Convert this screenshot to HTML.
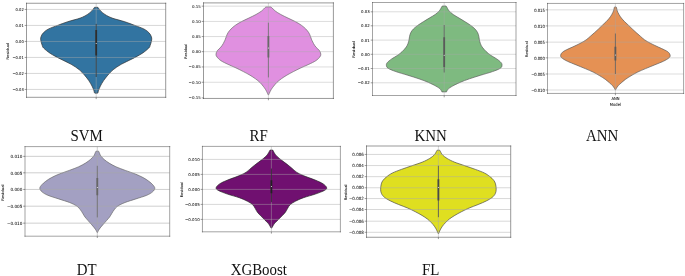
<!DOCTYPE html>
<html><head><meta charset="utf-8"><title>Violin plots</title>
<style>
html,body{margin:0;padding:0;background:#fff;}
body{width:685px;height:276px;overflow:hidden;}
svg{display:block;}
.t{font-family:"DejaVu Sans","Liberation Sans",sans-serif;fill:#000;stroke:#000;stroke-width:0.035px;text-rendering:geometricPrecision;}
.l{font-family:"Liberation Serif","Times New Roman",serif;font-size:14.9px;fill:#111;}
</style></head><body>
<svg width="685" height="276" viewBox="0 0 685 276">
<rect width="685" height="276" fill="#fff"/>
<clipPath id="c0"><rect x="26.50" y="3.25" width="139.20" height="94.05"/></clipPath>
<g clip-path="url(#c0)">
<path d="M97.80 7.30C97.88 7.40 97.83 7.30 98.30 7.90C98.77 8.50 99.48 9.80 100.60 10.90C101.72 12.00 103.07 13.30 105.00 14.50C106.93 15.70 108.90 16.89 112.20 18.10C115.50 19.31 121.03 20.53 124.80 21.75C128.57 22.97 131.62 24.19 134.80 25.40C137.98 26.61 141.57 27.80 143.90 29.00C146.23 30.20 147.58 31.39 148.80 32.60C150.02 33.81 150.72 35.03 151.20 36.25C151.68 37.47 151.87 38.39 151.70 39.90C151.53 41.41 150.68 43.95 150.20 45.30C149.72 46.65 150.15 46.65 148.80 48.00C147.45 49.35 144.88 51.58 142.10 53.40C139.32 55.22 135.58 57.08 132.10 58.90C128.62 60.72 124.37 62.49 121.20 64.30C118.03 66.11 115.33 67.93 113.10 69.75C110.87 71.57 109.38 73.39 107.80 75.20C106.22 77.01 104.83 78.80 103.60 80.60C102.37 82.40 101.25 84.33 100.40 86.00C99.55 87.67 98.90 89.50 98.50 90.60C98.10 91.70 98.17 92.17 98.00 92.60C97.83 93.03 97.58 93.10 97.50 93.20L94.90 93.20C94.82 93.10 94.57 93.03 94.40 92.60C94.23 92.17 94.30 91.70 93.90 90.60C93.50 89.50 92.85 87.67 92.00 86.00C91.15 84.33 90.03 82.40 88.80 80.60C87.57 78.80 86.18 77.01 84.60 75.20C83.02 73.39 81.53 71.57 79.30 69.75C77.07 67.93 74.37 66.11 71.20 64.30C68.03 62.49 63.78 60.72 60.30 58.90C56.82 57.08 53.08 55.22 50.30 53.40C47.52 51.58 44.95 49.35 43.60 48.00C42.25 46.65 42.68 46.65 42.20 45.30C41.72 43.95 40.87 41.41 40.70 39.90C40.53 38.39 40.72 37.47 41.20 36.25C41.68 35.03 42.38 33.81 43.60 32.60C44.82 31.39 46.17 30.20 48.50 29.00C50.83 27.80 54.42 26.61 57.60 25.40C60.78 24.19 63.83 22.97 67.60 21.75C71.37 20.53 76.90 19.31 80.20 18.10C83.50 16.89 85.47 15.70 87.40 14.50C89.33 13.30 90.68 12.00 91.80 10.90C92.92 9.80 93.63 8.50 94.10 7.90C94.57 7.30 94.52 7.40 94.60 7.30Z" fill="#3274a1" stroke="#2e2e2e" stroke-width="0.68" stroke-linejoin="round"/>
<line x1="26.50" y1="9.45" x2="165.70" y2="9.45" stroke="#a8a8a8" stroke-opacity="0.9" stroke-width="0.50"/>
<line x1="26.50" y1="25.45" x2="165.70" y2="25.45" stroke="#a8a8a8" stroke-opacity="0.9" stroke-width="0.50"/>
<line x1="26.50" y1="41.45" x2="165.70" y2="41.45" stroke="#a8a8a8" stroke-opacity="0.9" stroke-width="0.50"/>
<line x1="26.50" y1="57.45" x2="165.70" y2="57.45" stroke="#a8a8a8" stroke-opacity="0.9" stroke-width="0.50"/>
<line x1="26.50" y1="73.45" x2="165.70" y2="73.45" stroke="#a8a8a8" stroke-opacity="0.9" stroke-width="0.50"/>
<line x1="26.50" y1="89.45" x2="165.70" y2="89.45" stroke="#a8a8a8" stroke-opacity="0.9" stroke-width="0.50"/>
<line x1="96.20" y1="3.25" x2="96.20" y2="97.30" stroke="#a8a8a8" stroke-opacity="0.9" stroke-width="0.50"/>
<line x1="96.20" y1="23.90" x2="96.20" y2="77.00" stroke="#2e2e2e" stroke-width="0.75"/>
<line x1="96.20" y1="29.90" x2="96.20" y2="55.60" stroke="#2e2e2e" stroke-width="1.8"/>
<circle cx="96.20" cy="43.50" r="0.5" fill="#fff"/>
</g>
<line x1="26.50" y1="3.25" x2="26.50" y2="97.30" stroke="#333" stroke-width="0.50" stroke-linecap="square"/>
<line x1="26.50" y1="97.30" x2="165.70" y2="97.30" stroke="#333" stroke-width="0.50" stroke-linecap="square"/>
<line x1="165.70" y1="3.25" x2="165.70" y2="97.30" stroke="#333" stroke-width="0.50" stroke-linecap="square"/>
<line x1="26.50" y1="3.25" x2="165.70" y2="3.25" stroke="#333" stroke-width="0.50" stroke-linecap="square"/>
<line x1="24.70" y1="9.45" x2="26.50" y2="9.45" stroke="#222" stroke-width="0.45"/>
<text transform="translate(23.80 10.98) scale(1 1.06)" text-anchor="end" class="t" font-size="3.70">0.02</text>
<line x1="24.70" y1="25.45" x2="26.50" y2="25.45" stroke="#222" stroke-width="0.45"/>
<text transform="translate(23.80 26.98) scale(1 1.06)" text-anchor="end" class="t" font-size="3.70">0.01</text>
<line x1="24.70" y1="41.45" x2="26.50" y2="41.45" stroke="#222" stroke-width="0.45"/>
<text transform="translate(23.80 42.98) scale(1 1.06)" text-anchor="end" class="t" font-size="3.70">0.00</text>
<line x1="24.70" y1="57.45" x2="26.50" y2="57.45" stroke="#222" stroke-width="0.45"/>
<text transform="translate(23.80 58.98) scale(1 1.06)" text-anchor="end" class="t" font-size="3.70">−0.01</text>
<line x1="24.70" y1="73.45" x2="26.50" y2="73.45" stroke="#222" stroke-width="0.45"/>
<text transform="translate(23.80 74.98) scale(1 1.06)" text-anchor="end" class="t" font-size="3.70">−0.02</text>
<line x1="24.70" y1="89.45" x2="26.50" y2="89.45" stroke="#222" stroke-width="0.45"/>
<text transform="translate(23.80 90.98) scale(1 1.06)" text-anchor="end" class="t" font-size="3.70">−0.03</text>
<line x1="96.20" y1="97.30" x2="96.20" y2="99.10" stroke="#222" stroke-width="0.45"/>
<text transform="translate(9.40 51.20) scale(1 1.11) rotate(-90)" text-anchor="middle" class="t" font-size="3.6">Residual</text>
<text transform="translate(86.60 140.70) scale(1 1.05)" text-anchor="middle" class="l">SVM</text>
<clipPath id="c1"><rect x="203.50" y="2.90" width="129.90" height="95.55"/></clipPath>
<g clip-path="url(#c1)">
<path d="M270.90 6.90C271.02 7.00 270.90 6.83 271.60 7.50C272.30 8.17 273.57 9.73 275.10 10.90C276.63 12.07 278.65 13.30 280.80 14.50C282.95 15.70 285.53 16.89 288.00 18.10C290.47 19.31 293.33 20.53 295.60 21.75C297.87 22.97 299.90 24.19 301.60 25.40C303.30 26.61 304.62 27.80 305.80 29.00C306.98 30.20 307.93 31.39 308.70 32.60C309.47 33.81 309.90 35.03 310.40 36.25C310.90 37.47 311.18 38.69 311.70 39.90C312.22 41.11 312.80 42.30 313.50 43.50C314.20 44.70 314.90 45.90 315.90 47.10C316.90 48.30 318.68 49.50 319.50 50.70C320.32 51.90 320.77 53.23 320.80 54.30C320.83 55.37 320.53 56.03 319.70 57.10C318.87 58.17 317.60 59.50 315.80 60.70C314.00 61.90 311.40 63.10 308.90 64.30C306.40 65.50 303.38 66.68 300.80 67.90C298.22 69.12 295.73 70.38 293.40 71.60C291.07 72.82 288.82 74.00 286.80 75.20C284.78 76.40 282.95 77.60 281.30 78.80C279.65 80.00 278.17 81.18 276.90 82.40C275.63 83.62 274.67 84.88 273.70 86.10C272.73 87.32 271.83 88.50 271.10 89.70C270.37 90.90 269.70 92.45 269.30 93.30C268.90 94.15 268.80 94.55 268.70 94.80L268.10 94.80C268.00 94.55 267.90 94.15 267.50 93.30C267.10 92.45 266.43 90.90 265.70 89.70C264.97 88.50 264.07 87.32 263.10 86.10C262.13 84.88 261.17 83.62 259.90 82.40C258.63 81.18 257.15 80.00 255.50 78.80C253.85 77.60 252.02 76.40 250.00 75.20C247.98 74.00 245.73 72.82 243.40 71.60C241.07 70.38 238.58 69.12 236.00 67.90C233.42 66.68 230.40 65.50 227.90 64.30C225.40 63.10 222.80 61.90 221.00 60.70C219.20 59.50 217.93 58.17 217.10 57.10C216.27 56.03 215.97 55.37 216.00 54.30C216.03 53.23 216.48 51.90 217.30 50.70C218.12 49.50 219.90 48.30 220.90 47.10C221.90 45.90 222.60 44.70 223.30 43.50C224.00 42.30 224.58 41.11 225.10 39.90C225.62 38.69 225.90 37.47 226.40 36.25C226.90 35.03 227.33 33.81 228.10 32.60C228.87 31.39 229.82 30.20 231.00 29.00C232.18 27.80 233.50 26.61 235.20 25.40C236.90 24.19 238.93 22.97 241.20 21.75C243.47 20.53 246.33 19.31 248.80 18.10C251.27 16.89 253.85 15.70 256.00 14.50C258.15 13.30 260.17 12.07 261.70 10.90C263.23 9.73 264.50 8.17 265.20 7.50C265.90 6.83 265.78 7.00 265.90 6.90Z" fill="#e090e0" stroke="#686868" stroke-width="0.68" stroke-linejoin="round"/>
<line x1="203.50" y1="6.15" x2="333.40" y2="6.15" stroke="#a8a8a8" stroke-opacity="0.9" stroke-width="0.45"/>
<line x1="203.50" y1="21.45" x2="333.40" y2="21.45" stroke="#a8a8a8" stroke-opacity="0.9" stroke-width="0.45"/>
<line x1="203.50" y1="36.55" x2="333.40" y2="36.55" stroke="#a8a8a8" stroke-opacity="0.9" stroke-width="0.45"/>
<line x1="203.50" y1="51.65" x2="333.40" y2="51.65" stroke="#a8a8a8" stroke-opacity="0.9" stroke-width="0.45"/>
<line x1="203.50" y1="66.95" x2="333.40" y2="66.95" stroke="#a8a8a8" stroke-opacity="0.9" stroke-width="0.45"/>
<line x1="203.50" y1="82.25" x2="333.40" y2="82.25" stroke="#a8a8a8" stroke-opacity="0.9" stroke-width="0.45"/>
<line x1="268.40" y1="2.90" x2="268.40" y2="98.45" stroke="#a8a8a8" stroke-opacity="0.9" stroke-width="0.45"/>
<line x1="268.40" y1="22.70" x2="268.40" y2="77.40" stroke="#686868" stroke-width="0.75"/>
<line x1="268.40" y1="35.90" x2="268.40" y2="57.40" stroke="#686868" stroke-width="1.8"/>
<circle cx="268.40" cy="48.00" r="0.5" fill="#fff"/>
</g>
<line x1="203.50" y1="2.90" x2="203.50" y2="98.45" stroke="#333" stroke-width="0.50" stroke-linecap="square"/>
<line x1="203.50" y1="98.45" x2="333.40" y2="98.45" stroke="#333" stroke-width="0.50" stroke-linecap="square"/>
<line x1="333.40" y1="2.90" x2="333.40" y2="98.45" stroke="#333" stroke-width="0.50" stroke-linecap="square"/>
<line x1="203.50" y1="2.90" x2="333.40" y2="2.90" stroke="#333" stroke-width="0.50" stroke-linecap="square"/>
<line x1="201.70" y1="6.15" x2="203.50" y2="6.15" stroke="#222" stroke-width="0.45"/>
<text transform="translate(200.80 7.65) scale(1 0.96)" text-anchor="end" class="t" font-size="4.00">0.15</text>
<line x1="201.70" y1="21.45" x2="203.50" y2="21.45" stroke="#222" stroke-width="0.45"/>
<text transform="translate(200.80 22.95) scale(1 0.96)" text-anchor="end" class="t" font-size="4.00">0.10</text>
<line x1="201.70" y1="36.55" x2="203.50" y2="36.55" stroke="#222" stroke-width="0.45"/>
<text transform="translate(200.80 38.05) scale(1 0.96)" text-anchor="end" class="t" font-size="4.00">0.05</text>
<line x1="201.70" y1="51.65" x2="203.50" y2="51.65" stroke="#222" stroke-width="0.45"/>
<text transform="translate(200.80 53.15) scale(1 0.96)" text-anchor="end" class="t" font-size="4.00">0.00</text>
<line x1="201.70" y1="66.95" x2="203.50" y2="66.95" stroke="#222" stroke-width="0.45"/>
<text transform="translate(200.80 68.45) scale(1 0.96)" text-anchor="end" class="t" font-size="4.00">−0.05</text>
<line x1="201.70" y1="82.25" x2="203.50" y2="82.25" stroke="#222" stroke-width="0.45"/>
<text transform="translate(200.80 83.75) scale(1 0.96)" text-anchor="end" class="t" font-size="4.00">−0.10</text>
<line x1="201.70" y1="97.90" x2="203.50" y2="97.90" stroke="#222" stroke-width="0.45"/>
<text transform="translate(200.80 99.40) scale(1 0.96)" text-anchor="end" class="t" font-size="4.00">−0.15</text>
<line x1="268.40" y1="98.45" x2="268.40" y2="100.25" stroke="#222" stroke-width="0.45"/>
<text transform="translate(186.60 51.20) scale(1 0.98) rotate(-90)" text-anchor="middle" class="t" font-size="3.6">Residual</text>
<text transform="translate(258.60 140.70) scale(1 1.05)" text-anchor="middle" class="l">RF</text>
<clipPath id="c2"><rect x="372.50" y="2.50" width="143.50" height="93.00"/></clipPath>
<g clip-path="url(#c2)">
<path d="M446.00 6.00C446.08 6.10 445.98 5.78 446.50 6.60C447.02 7.42 447.98 9.58 449.10 10.90C450.22 12.22 451.53 13.30 453.20 14.50C454.87 15.70 457.12 16.89 459.10 18.10C461.08 19.31 463.17 20.53 465.10 21.75C467.03 22.97 469.05 24.19 470.70 25.40C472.35 26.61 473.85 27.80 475.00 29.00C476.15 30.20 476.97 31.39 477.60 32.60C478.23 33.81 478.50 35.03 478.80 36.25C479.10 37.47 479.13 38.69 479.40 39.90C479.67 41.11 479.93 42.30 480.40 43.50C480.87 44.70 481.23 45.75 482.20 47.10C483.17 48.45 484.78 50.24 486.20 51.60C487.62 52.96 488.95 54.03 490.70 55.25C492.45 56.47 494.98 57.69 496.70 58.90C498.42 60.11 500.12 61.45 501.00 62.50C501.88 63.55 502.10 64.25 502.00 65.20C501.90 66.15 501.98 67.13 500.40 68.20C498.82 69.27 495.78 70.43 492.50 71.60C489.22 72.77 484.55 74.00 480.70 75.20C476.85 76.40 472.85 77.60 469.40 78.80C465.95 80.00 462.82 81.18 460.00 82.40C457.18 83.62 454.43 85.03 452.50 86.10C450.57 87.17 449.32 88.02 448.40 88.80C447.48 89.58 447.32 90.28 447.00 90.80C446.68 91.32 446.58 91.72 446.50 91.90L441.90 91.90C441.82 91.72 441.72 91.32 441.40 90.80C441.08 90.28 440.92 89.58 440.00 88.80C439.08 88.02 437.83 87.17 435.90 86.10C433.97 85.03 431.22 83.62 428.40 82.40C425.58 81.18 422.45 80.00 419.00 78.80C415.55 77.60 411.55 76.40 407.70 75.20C403.85 74.00 399.18 72.77 395.90 71.60C392.62 70.43 389.58 69.27 388.00 68.20C386.42 67.13 386.50 66.15 386.40 65.20C386.30 64.25 386.52 63.55 387.40 62.50C388.28 61.45 389.98 60.11 391.70 58.90C393.42 57.69 395.95 56.47 397.70 55.25C399.45 54.03 400.78 52.96 402.20 51.60C403.62 50.24 405.23 48.45 406.20 47.10C407.17 45.75 407.53 44.70 408.00 43.50C408.47 42.30 408.73 41.11 409.00 39.90C409.27 38.69 409.30 37.47 409.60 36.25C409.90 35.03 410.17 33.81 410.80 32.60C411.43 31.39 412.25 30.20 413.40 29.00C414.55 27.80 416.05 26.61 417.70 25.40C419.35 24.19 421.37 22.97 423.30 21.75C425.23 20.53 427.32 19.31 429.30 18.10C431.28 16.89 433.53 15.70 435.20 14.50C436.87 13.30 438.18 12.22 439.30 10.90C440.42 9.58 441.38 7.42 441.90 6.60C442.42 5.78 442.32 6.10 442.40 6.00Z" fill="#7eba80" stroke="#5a5a5a" stroke-width="0.68" stroke-linejoin="round"/>
<line x1="372.50" y1="11.80" x2="516.00" y2="11.80" stroke="#a8a8a8" stroke-opacity="0.9" stroke-width="0.45"/>
<line x1="372.50" y1="25.80" x2="516.00" y2="25.80" stroke="#a8a8a8" stroke-opacity="0.9" stroke-width="0.45"/>
<line x1="372.50" y1="40.10" x2="516.00" y2="40.10" stroke="#a8a8a8" stroke-opacity="0.9" stroke-width="0.45"/>
<line x1="372.50" y1="54.30" x2="516.00" y2="54.30" stroke="#a8a8a8" stroke-opacity="0.9" stroke-width="0.45"/>
<line x1="372.50" y1="68.50" x2="516.00" y2="68.50" stroke="#a8a8a8" stroke-opacity="0.9" stroke-width="0.45"/>
<line x1="372.50" y1="82.80" x2="516.00" y2="82.80" stroke="#a8a8a8" stroke-opacity="0.9" stroke-width="0.45"/>
<line x1="444.20" y1="2.50" x2="444.20" y2="95.50" stroke="#a8a8a8" stroke-opacity="0.9" stroke-width="0.45"/>
<line x1="444.20" y1="25.00" x2="444.20" y2="72.50" stroke="#5a5a5a" stroke-width="0.75"/>
<line x1="444.20" y1="37.20" x2="444.20" y2="67.00" stroke="#5a5a5a" stroke-width="1.8"/>
<circle cx="444.20" cy="55.25" r="0.5" fill="#fff"/>
</g>
<line x1="372.50" y1="2.50" x2="372.50" y2="95.50" stroke="#333" stroke-width="0.45" stroke-linecap="square"/>
<line x1="372.50" y1="95.50" x2="516.00" y2="95.50" stroke="#333" stroke-width="0.45" stroke-linecap="square"/>
<line x1="516.00" y1="2.50" x2="516.00" y2="95.50" stroke="#333" stroke-width="0.45" stroke-linecap="square"/>
<line x1="372.50" y1="2.50" x2="516.00" y2="2.50" stroke="#333" stroke-width="0.45" stroke-linecap="square"/>
<line x1="370.70" y1="11.80" x2="372.50" y2="11.80" stroke="#222" stroke-width="0.45"/>
<text transform="translate(369.80 13.33) scale(1 0.99)" text-anchor="end" class="t" font-size="3.95">0.03</text>
<line x1="370.70" y1="25.80" x2="372.50" y2="25.80" stroke="#222" stroke-width="0.45"/>
<text transform="translate(369.80 27.33) scale(1 0.99)" text-anchor="end" class="t" font-size="3.95">0.02</text>
<line x1="370.70" y1="40.10" x2="372.50" y2="40.10" stroke="#222" stroke-width="0.45"/>
<text transform="translate(369.80 41.63) scale(1 0.99)" text-anchor="end" class="t" font-size="3.95">0.01</text>
<line x1="370.70" y1="54.30" x2="372.50" y2="54.30" stroke="#222" stroke-width="0.45"/>
<text transform="translate(369.80 55.83) scale(1 0.99)" text-anchor="end" class="t" font-size="3.95">0.00</text>
<line x1="370.70" y1="68.50" x2="372.50" y2="68.50" stroke="#222" stroke-width="0.45"/>
<text transform="translate(369.80 70.03) scale(1 0.99)" text-anchor="end" class="t" font-size="3.95">−0.01</text>
<line x1="370.70" y1="82.80" x2="372.50" y2="82.80" stroke="#222" stroke-width="0.45"/>
<text transform="translate(369.80 84.33) scale(1 0.99)" text-anchor="end" class="t" font-size="3.95">−0.02</text>
<line x1="444.20" y1="95.50" x2="444.20" y2="97.30" stroke="#222" stroke-width="0.45"/>
<text transform="translate(354.60 49.40) scale(1 1.09) rotate(-90)" text-anchor="middle" class="t" font-size="3.6">Residual</text>
<text transform="translate(430.70 140.70) scale(1 1.05)" text-anchor="middle" class="l">KNN</text>
<clipPath id="c3"><rect x="547.50" y="3.45" width="136.10" height="90.00"/></clipPath>
<g clip-path="url(#c3)">
<path d="M616.10 6.90C616.17 7.02 616.30 6.93 616.50 7.60C616.70 8.27 616.88 9.75 617.30 10.90C617.72 12.05 618.32 13.30 619.00 14.50C619.68 15.70 620.45 16.89 621.40 18.10C622.35 19.31 623.50 20.53 624.70 21.75C625.90 22.97 627.33 24.19 628.60 25.40C629.87 26.61 631.03 27.80 632.30 29.00C633.57 30.20 634.85 31.39 636.20 32.60C637.55 33.81 638.98 35.03 640.40 36.25C641.82 37.47 642.95 38.69 644.70 39.90C646.45 41.11 648.62 42.30 650.90 43.50C653.18 44.70 656.10 46.02 658.40 47.10C660.70 48.18 663.03 49.14 664.70 50.00C666.37 50.86 667.50 51.42 668.40 52.25C669.30 53.08 669.97 54.09 670.10 55.00C670.23 55.91 670.33 56.65 669.20 57.70C668.07 58.75 665.73 60.10 663.30 61.30C660.87 62.50 657.55 63.68 654.60 64.90C651.65 66.12 648.47 67.38 645.60 68.60C642.73 69.82 639.83 71.00 637.40 72.20C634.97 73.40 633.00 74.60 631.00 75.80C629.00 77.00 627.07 78.18 625.40 79.40C623.73 80.62 622.22 82.03 621.00 83.10C619.78 84.17 618.88 84.90 618.10 85.80C617.32 86.70 616.70 87.83 616.30 88.50C615.90 89.17 615.80 89.58 615.70 89.80L615.10 89.80C615.00 89.58 614.90 89.17 614.50 88.50C614.10 87.83 613.48 86.70 612.70 85.80C611.92 84.90 611.02 84.17 609.80 83.10C608.58 82.03 607.07 80.62 605.40 79.40C603.73 78.18 601.80 77.00 599.80 75.80C597.80 74.60 595.83 73.40 593.40 72.20C590.97 71.00 588.07 69.82 585.20 68.60C582.33 67.38 579.15 66.12 576.20 64.90C573.25 63.68 569.93 62.50 567.50 61.30C565.07 60.10 562.73 58.75 561.60 57.70C560.47 56.65 560.57 55.91 560.70 55.00C560.83 54.09 561.50 53.08 562.40 52.25C563.30 51.42 564.43 50.86 566.10 50.00C567.77 49.14 570.10 48.18 572.40 47.10C574.70 46.02 577.62 44.70 579.90 43.50C582.18 42.30 584.35 41.11 586.10 39.90C587.85 38.69 588.98 37.47 590.40 36.25C591.82 35.03 593.25 33.81 594.60 32.60C595.95 31.39 597.23 30.20 598.50 29.00C599.77 27.80 600.93 26.61 602.20 25.40C603.47 24.19 604.90 22.97 606.10 21.75C607.30 20.53 608.45 19.31 609.40 18.10C610.35 16.89 611.12 15.70 611.80 14.50C612.48 13.30 613.08 12.05 613.50 10.90C613.92 9.75 614.10 8.27 614.30 7.60C614.50 6.93 614.63 7.02 614.70 6.90Z" fill="#e59154" stroke="#5a5a5a" stroke-width="0.68" stroke-linejoin="round"/>
<line x1="547.50" y1="9.85" x2="683.60" y2="9.85" stroke="#a8a8a8" stroke-opacity="0.9" stroke-width="0.45"/>
<line x1="547.50" y1="25.90" x2="683.60" y2="25.90" stroke="#a8a8a8" stroke-opacity="0.9" stroke-width="0.45"/>
<line x1="547.50" y1="42.15" x2="683.60" y2="42.15" stroke="#a8a8a8" stroke-opacity="0.9" stroke-width="0.45"/>
<line x1="547.50" y1="57.85" x2="683.60" y2="57.85" stroke="#a8a8a8" stroke-opacity="0.9" stroke-width="0.45"/>
<line x1="547.50" y1="74.00" x2="683.60" y2="74.00" stroke="#a8a8a8" stroke-opacity="0.9" stroke-width="0.45"/>
<line x1="547.50" y1="90.00" x2="683.60" y2="90.00" stroke="#a8a8a8" stroke-opacity="0.9" stroke-width="0.45"/>
<line x1="615.40" y1="3.45" x2="615.40" y2="93.45" stroke="#a8a8a8" stroke-opacity="0.9" stroke-width="0.45"/>
<line x1="615.40" y1="33.50" x2="615.40" y2="74.00" stroke="#5a5a5a" stroke-width="0.75"/>
<line x1="615.40" y1="46.80" x2="615.40" y2="60.40" stroke="#5a5a5a" stroke-width="1.8"/>
<circle cx="615.40" cy="55.00" r="0.5" fill="#fff"/>
</g>
<line x1="547.50" y1="3.45" x2="547.50" y2="93.45" stroke="#333" stroke-width="0.45" stroke-linecap="square"/>
<line x1="547.50" y1="93.45" x2="683.60" y2="93.45" stroke="#333" stroke-width="0.45" stroke-linecap="square"/>
<line x1="683.60" y1="3.45" x2="683.60" y2="93.45" stroke="#333" stroke-width="0.45" stroke-linecap="square"/>
<line x1="547.50" y1="3.45" x2="683.60" y2="3.45" stroke="#333" stroke-width="0.45" stroke-linecap="square"/>
<line x1="545.70" y1="9.85" x2="547.50" y2="9.85" stroke="#222" stroke-width="0.45"/>
<text transform="translate(544.80 11.58) scale(1 1.21)" text-anchor="end" class="t" font-size="3.70">0.015</text>
<line x1="545.70" y1="25.90" x2="547.50" y2="25.90" stroke="#222" stroke-width="0.45"/>
<text transform="translate(544.80 27.63) scale(1 1.21)" text-anchor="end" class="t" font-size="3.70">0.010</text>
<line x1="545.70" y1="42.15" x2="547.50" y2="42.15" stroke="#222" stroke-width="0.45"/>
<text transform="translate(544.80 43.88) scale(1 1.21)" text-anchor="end" class="t" font-size="3.70">0.005</text>
<line x1="545.70" y1="57.85" x2="547.50" y2="57.85" stroke="#222" stroke-width="0.45"/>
<text transform="translate(544.80 59.58) scale(1 1.21)" text-anchor="end" class="t" font-size="3.70">0.000</text>
<line x1="545.70" y1="74.00" x2="547.50" y2="74.00" stroke="#222" stroke-width="0.45"/>
<text transform="translate(544.80 75.73) scale(1 1.21)" text-anchor="end" class="t" font-size="3.70">−0.005</text>
<line x1="545.70" y1="90.00" x2="547.50" y2="90.00" stroke="#222" stroke-width="0.45"/>
<text transform="translate(544.80 91.73) scale(1 1.21)" text-anchor="end" class="t" font-size="3.70">−0.010</text>
<line x1="615.40" y1="93.45" x2="615.40" y2="95.25" stroke="#222" stroke-width="0.45"/>
<text transform="translate(527.90 49.20) scale(1 1.07) rotate(-90)" text-anchor="middle" class="t" font-size="3.6">Residual</text>
<text transform="translate(615.40 100.40) scale(1 1.14)" text-anchor="middle" class="t" font-size="3.70">ANN</text>
<text transform="translate(615.40 105.80) scale(1 1.14)" text-anchor="middle" class="t" font-size="3.70">Model</text>
<text transform="translate(602.10 140.70) scale(1 1.05)" text-anchor="middle" class="l">ANN</text>
<clipPath id="c4"><rect x="25.00" y="146.60" width="144.70" height="89.60"/></clipPath>
<g clip-path="url(#c4)">
<path d="M98.50 151.20C98.58 151.32 98.62 151.12 99.00 151.90C99.38 152.68 99.93 154.63 100.80 155.90C101.67 157.17 102.82 158.30 104.20 159.50C105.58 160.70 107.15 161.89 109.10 163.10C111.05 164.31 113.20 165.53 115.90 166.75C118.60 167.97 122.07 169.19 125.30 170.40C128.53 171.61 132.33 172.80 135.30 174.00C138.27 175.20 140.85 176.39 143.10 177.60C145.35 178.81 147.17 180.03 148.80 181.25C150.43 182.47 151.90 183.72 152.90 184.90C153.90 186.08 154.85 187.15 154.80 188.30C154.75 189.45 153.93 190.64 152.60 191.80C151.27 192.96 149.58 194.07 146.80 195.25C144.02 196.43 139.53 197.69 135.90 198.90C132.27 200.11 128.02 201.30 125.00 202.50C121.98 203.70 119.60 204.89 117.80 206.10C116.00 207.31 115.20 208.53 114.20 209.75C113.20 210.97 112.57 212.19 111.80 213.40C111.03 214.61 110.48 215.80 109.60 217.00C108.72 218.20 107.55 219.39 106.50 220.60C105.45 221.81 104.35 223.03 103.30 224.25C102.25 225.47 101.02 226.84 100.20 227.90C99.38 228.96 98.83 229.85 98.40 230.60C97.97 231.35 97.73 232.10 97.60 232.40L97.00 232.40C96.87 232.10 96.63 231.35 96.20 230.60C95.77 229.85 95.22 228.96 94.40 227.90C93.58 226.84 92.35 225.47 91.30 224.25C90.25 223.03 89.15 221.81 88.10 220.60C87.05 219.39 85.88 218.20 85.00 217.00C84.12 215.80 83.57 214.61 82.80 213.40C82.03 212.19 81.40 210.97 80.40 209.75C79.40 208.53 78.60 207.31 76.80 206.10C75.00 204.89 72.62 203.70 69.60 202.50C66.58 201.30 62.33 200.11 58.70 198.90C55.07 197.69 50.58 196.43 47.80 195.25C45.02 194.07 43.33 192.96 42.00 191.80C40.67 190.64 39.85 189.45 39.80 188.30C39.75 187.15 40.70 186.08 41.70 184.90C42.70 183.72 44.17 182.47 45.80 181.25C47.43 180.03 49.25 178.81 51.50 177.60C53.75 176.39 56.33 175.20 59.30 174.00C62.27 172.80 66.07 171.61 69.30 170.40C72.53 169.19 76.00 167.97 78.70 166.75C81.40 165.53 83.55 164.31 85.50 163.10C87.45 161.89 89.02 160.70 90.40 159.50C91.78 158.30 92.93 157.17 93.80 155.90C94.67 154.63 95.22 152.68 95.60 151.90C95.98 151.12 96.02 151.32 96.10 151.20Z" fill="#a3a0c2" stroke="#666666" stroke-width="0.68" stroke-linejoin="round"/>
<line x1="25.00" y1="156.35" x2="169.70" y2="156.35" stroke="#a8a8a8" stroke-opacity="0.9" stroke-width="0.62"/>
<line x1="25.00" y1="172.80" x2="169.70" y2="172.80" stroke="#a8a8a8" stroke-opacity="0.9" stroke-width="0.62"/>
<line x1="25.00" y1="189.45" x2="169.70" y2="189.45" stroke="#a8a8a8" stroke-opacity="0.9" stroke-width="0.62"/>
<line x1="25.00" y1="206.20" x2="169.70" y2="206.20" stroke="#a8a8a8" stroke-opacity="0.9" stroke-width="0.62"/>
<line x1="25.00" y1="223.15" x2="169.70" y2="223.15" stroke="#a8a8a8" stroke-opacity="0.9" stroke-width="0.62"/>
<line x1="97.30" y1="146.60" x2="97.30" y2="236.20" stroke="#a8a8a8" stroke-opacity="0.9" stroke-width="0.62"/>
<line x1="97.30" y1="165.80" x2="97.30" y2="217.40" stroke="#666666" stroke-width="0.75"/>
<line x1="97.30" y1="178.00" x2="97.30" y2="195.25" stroke="#666666" stroke-width="1.8"/>
<circle cx="97.30" cy="187.60" r="0.5" fill="#fff"/>
</g>
<line x1="25.00" y1="146.60" x2="25.00" y2="236.20" stroke="#333" stroke-width="0.45" stroke-linecap="square"/>
<line x1="25.00" y1="236.20" x2="169.70" y2="236.20" stroke="#333" stroke-width="0.45" stroke-linecap="square"/>
<line x1="169.70" y1="146.60" x2="169.70" y2="236.20" stroke="#333" stroke-width="0.45" stroke-linecap="square"/>
<line x1="25.00" y1="146.60" x2="169.70" y2="146.60" stroke="#333" stroke-width="0.45" stroke-linecap="square"/>
<line x1="23.20" y1="156.35" x2="25.00" y2="156.35" stroke="#222" stroke-width="0.45"/>
<text transform="translate(22.30 158.07) scale(1 1.07)" text-anchor="end" class="t" font-size="4.15">0.010</text>
<line x1="23.20" y1="172.80" x2="25.00" y2="172.80" stroke="#222" stroke-width="0.45"/>
<text transform="translate(22.30 174.52) scale(1 1.07)" text-anchor="end" class="t" font-size="4.15">0.005</text>
<line x1="23.20" y1="189.45" x2="25.00" y2="189.45" stroke="#222" stroke-width="0.45"/>
<text transform="translate(22.30 191.17) scale(1 1.07)" text-anchor="end" class="t" font-size="4.15">0.000</text>
<line x1="23.20" y1="206.20" x2="25.00" y2="206.20" stroke="#222" stroke-width="0.45"/>
<text transform="translate(22.30 207.92) scale(1 1.07)" text-anchor="end" class="t" font-size="4.15">−0.005</text>
<line x1="23.20" y1="223.15" x2="25.00" y2="223.15" stroke="#222" stroke-width="0.45"/>
<text transform="translate(22.30 224.87) scale(1 1.07)" text-anchor="end" class="t" font-size="4.15">−0.010</text>
<line x1="97.30" y1="236.20" x2="97.30" y2="238.00" stroke="#222" stroke-width="0.45"/>
<text transform="translate(4.30 192.60) scale(1 1.08) rotate(-90)" text-anchor="middle" class="t" font-size="3.6">Residual</text>
<text transform="translate(86.60 274.70) scale(1 1.05)" text-anchor="middle" class="l">DT</text>
<clipPath id="c5"><rect x="202.45" y="146.40" width="137.95" height="85.40"/></clipPath>
<g clip-path="url(#c5)">
<path d="M272.60 150.00C272.68 150.12 272.60 149.88 273.10 150.70C273.60 151.52 274.55 153.60 275.60 154.90C276.65 156.20 277.98 157.30 279.40 158.50C280.82 159.70 282.52 160.89 284.10 162.10C285.68 163.31 287.38 164.53 288.90 165.75C290.42 166.97 291.70 168.19 293.20 169.40C294.70 170.61 295.78 171.80 297.90 173.00C300.02 174.20 302.93 175.39 305.90 176.60C308.87 177.81 312.82 179.03 315.70 180.25C318.58 181.47 321.38 182.68 323.20 183.90C325.02 185.12 326.35 186.53 326.60 187.60C326.85 188.67 326.58 189.22 324.70 190.30C322.82 191.38 318.83 192.87 315.30 194.10C311.77 195.33 306.83 196.50 303.50 197.70C300.17 198.90 297.57 200.10 295.30 201.30C293.03 202.50 291.20 203.68 289.90 204.90C288.60 206.12 288.25 207.38 287.50 208.60C286.75 209.82 286.30 211.00 285.40 212.20C284.50 213.40 283.25 214.60 282.10 215.80C280.95 217.00 279.72 218.18 278.50 219.40C277.28 220.62 275.72 222.03 274.80 223.10C273.88 224.17 273.52 224.97 273.00 225.80C272.48 226.63 271.92 227.72 271.70 228.10L271.10 228.10C270.88 227.72 270.32 226.63 269.80 225.80C269.28 224.97 268.92 224.17 268.00 223.10C267.08 222.03 265.52 220.62 264.30 219.40C263.08 218.18 261.85 217.00 260.70 215.80C259.55 214.60 258.30 213.40 257.40 212.20C256.50 211.00 256.05 209.82 255.30 208.60C254.55 207.38 254.20 206.12 252.90 204.90C251.60 203.68 249.77 202.50 247.50 201.30C245.23 200.10 242.63 198.90 239.30 197.70C235.97 196.50 231.03 195.33 227.50 194.10C223.97 192.87 219.98 191.38 218.10 190.30C216.22 189.22 215.95 188.67 216.20 187.60C216.45 186.53 217.78 185.12 219.60 183.90C221.42 182.68 224.22 181.47 227.10 180.25C229.98 179.03 233.93 177.81 236.90 176.60C239.87 175.39 242.78 174.20 244.90 173.00C247.02 171.80 248.10 170.61 249.60 169.40C251.10 168.19 252.38 166.97 253.90 165.75C255.42 164.53 257.12 163.31 258.70 162.10C260.28 160.89 261.98 159.70 263.40 158.50C264.82 157.30 266.15 156.20 267.20 154.90C268.25 153.60 269.20 151.52 269.70 150.70C270.20 149.88 270.12 150.12 270.20 150.00Z" fill="#701070" stroke="#222222" stroke-width="0.68" stroke-linejoin="round"/>
<line x1="202.45" y1="159.40" x2="340.40" y2="159.40" stroke="#a8a8a8" stroke-opacity="0.9" stroke-width="0.50"/>
<line x1="202.45" y1="174.40" x2="340.40" y2="174.40" stroke="#a8a8a8" stroke-opacity="0.9" stroke-width="0.50"/>
<line x1="202.45" y1="189.40" x2="340.40" y2="189.40" stroke="#a8a8a8" stroke-opacity="0.9" stroke-width="0.50"/>
<line x1="202.45" y1="204.40" x2="340.40" y2="204.40" stroke="#a8a8a8" stroke-opacity="0.9" stroke-width="0.50"/>
<line x1="202.45" y1="219.40" x2="340.40" y2="219.40" stroke="#a8a8a8" stroke-opacity="0.9" stroke-width="0.50"/>
<line x1="271.40" y1="146.40" x2="271.40" y2="231.80" stroke="#a8a8a8" stroke-opacity="0.9" stroke-width="0.50"/>
<line x1="271.40" y1="168.50" x2="271.40" y2="202.20" stroke="#222222" stroke-width="0.75"/>
<line x1="271.40" y1="180.25" x2="271.40" y2="193.20" stroke="#222222" stroke-width="1.8"/>
<circle cx="271.40" cy="186.60" r="0.5" fill="#fff"/>
</g>
<line x1="202.45" y1="146.40" x2="202.45" y2="231.80" stroke="#333" stroke-width="0.45" stroke-linecap="square"/>
<line x1="202.45" y1="231.80" x2="340.40" y2="231.80" stroke="#333" stroke-width="0.45" stroke-linecap="square"/>
<line x1="340.40" y1="146.40" x2="340.40" y2="231.80" stroke="#333" stroke-width="0.45" stroke-linecap="square"/>
<line x1="202.45" y1="146.40" x2="340.40" y2="146.40" stroke="#333" stroke-width="0.45" stroke-linecap="square"/>
<line x1="200.65" y1="159.40" x2="202.45" y2="159.40" stroke="#222" stroke-width="0.45"/>
<text transform="translate(199.75 160.93) scale(1 0.98)" text-anchor="end" class="t" font-size="4.00">0.010</text>
<line x1="200.65" y1="174.40" x2="202.45" y2="174.40" stroke="#222" stroke-width="0.45"/>
<text transform="translate(199.75 175.93) scale(1 0.98)" text-anchor="end" class="t" font-size="4.00">0.005</text>
<line x1="200.65" y1="189.40" x2="202.45" y2="189.40" stroke="#222" stroke-width="0.45"/>
<text transform="translate(199.75 190.93) scale(1 0.98)" text-anchor="end" class="t" font-size="4.00">0.000</text>
<line x1="200.65" y1="204.40" x2="202.45" y2="204.40" stroke="#222" stroke-width="0.45"/>
<text transform="translate(199.75 205.93) scale(1 0.98)" text-anchor="end" class="t" font-size="4.00">−0.005</text>
<line x1="200.65" y1="219.40" x2="202.45" y2="219.40" stroke="#222" stroke-width="0.45"/>
<text transform="translate(199.75 220.93) scale(1 0.98)" text-anchor="end" class="t" font-size="4.00">−0.010</text>
<line x1="271.40" y1="231.80" x2="271.40" y2="233.60" stroke="#222" stroke-width="0.45"/>
<text transform="translate(182.50 189.60) scale(1 1.01) rotate(-90)" text-anchor="middle" class="t" font-size="3.6">Residual</text>
<text transform="translate(258.80 274.70) scale(1 1.05)" text-anchor="middle" class="l">XGBoost</text>
<clipPath id="c6"><rect x="366.50" y="146.00" width="144.20" height="91.25"/></clipPath>
<g clip-path="url(#c6)">
<path d="M439.60 150.20C439.68 150.32 439.62 150.12 440.10 150.90C440.58 151.68 441.32 153.63 442.50 154.90C443.68 156.17 445.22 157.30 447.20 158.50C449.18 159.70 451.45 160.89 454.40 162.10C457.35 163.31 461.40 164.53 464.90 165.75C468.40 166.97 472.15 168.19 475.40 169.40C478.65 170.61 481.98 171.80 484.40 173.00C486.82 174.20 488.35 175.39 489.90 176.60C491.45 177.81 492.77 179.03 493.70 180.25C494.63 181.47 495.08 182.39 495.50 183.90C495.92 185.41 496.23 187.68 496.20 189.30C496.17 190.92 495.93 192.28 495.30 193.60C494.67 194.92 493.88 196.03 492.40 197.25C490.92 198.47 488.77 199.69 486.40 200.90C484.03 202.11 481.10 203.30 478.20 204.50C475.30 205.70 471.80 206.89 469.00 208.10C466.20 209.31 463.77 210.53 461.40 211.75C459.03 212.97 456.80 214.19 454.80 215.40C452.80 216.61 450.95 217.80 449.40 219.00C447.85 220.20 446.67 221.39 445.50 222.60C444.33 223.81 443.28 225.03 442.40 226.25C441.52 227.47 440.82 228.69 440.20 229.90C439.58 231.11 438.95 232.90 438.70 233.50L438.10 233.50C437.85 232.90 437.22 231.11 436.60 229.90C435.98 228.69 435.28 227.47 434.40 226.25C433.52 225.03 432.47 223.81 431.30 222.60C430.13 221.39 428.95 220.20 427.40 219.00C425.85 217.80 424.00 216.61 422.00 215.40C420.00 214.19 417.77 212.97 415.40 211.75C413.03 210.53 410.60 209.31 407.80 208.10C405.00 206.89 401.50 205.70 398.60 204.50C395.70 203.30 392.77 202.11 390.40 200.90C388.03 199.69 385.88 198.47 384.40 197.25C382.92 196.03 382.13 194.92 381.50 193.60C380.87 192.28 380.63 190.92 380.60 189.30C380.57 187.68 380.88 185.41 381.30 183.90C381.72 182.39 382.17 181.47 383.10 180.25C384.03 179.03 385.35 177.81 386.90 176.60C388.45 175.39 389.98 174.20 392.40 173.00C394.82 171.80 398.15 170.61 401.40 169.40C404.65 168.19 408.40 166.97 411.90 165.75C415.40 164.53 419.45 163.31 422.40 162.10C425.35 160.89 427.62 159.70 429.60 158.50C431.58 157.30 433.12 156.17 434.30 154.90C435.48 153.63 436.22 151.68 436.70 150.90C437.18 150.12 437.12 150.32 437.20 150.20Z" fill="#dfdf20" stroke="#484848" stroke-width="0.68" stroke-linejoin="round"/>
<line x1="366.50" y1="154.45" x2="510.70" y2="154.45" stroke="#a8a8a8" stroke-opacity="0.9" stroke-width="0.50"/>
<line x1="366.50" y1="165.55" x2="510.70" y2="165.55" stroke="#a8a8a8" stroke-opacity="0.9" stroke-width="0.50"/>
<line x1="366.50" y1="176.65" x2="510.70" y2="176.65" stroke="#a8a8a8" stroke-opacity="0.9" stroke-width="0.50"/>
<line x1="366.50" y1="187.75" x2="510.70" y2="187.75" stroke="#a8a8a8" stroke-opacity="0.9" stroke-width="0.50"/>
<line x1="366.50" y1="198.55" x2="510.70" y2="198.55" stroke="#a8a8a8" stroke-opacity="0.9" stroke-width="0.50"/>
<line x1="366.50" y1="209.50" x2="510.70" y2="209.50" stroke="#a8a8a8" stroke-opacity="0.9" stroke-width="0.50"/>
<line x1="366.50" y1="221.20" x2="510.70" y2="221.20" stroke="#a8a8a8" stroke-opacity="0.9" stroke-width="0.50"/>
<line x1="366.50" y1="232.30" x2="510.70" y2="232.30" stroke="#a8a8a8" stroke-opacity="0.9" stroke-width="0.50"/>
<line x1="438.40" y1="146.00" x2="438.40" y2="237.25" stroke="#a8a8a8" stroke-opacity="0.9" stroke-width="0.50"/>
<line x1="438.40" y1="165.75" x2="438.40" y2="217.20" stroke="#484848" stroke-width="0.75"/>
<line x1="438.40" y1="179.30" x2="438.40" y2="200.50" stroke="#484848" stroke-width="1.8"/>
<circle cx="438.40" cy="187.50" r="0.5" fill="#fff"/>
</g>
<line x1="366.50" y1="146.00" x2="366.50" y2="237.25" stroke="#333" stroke-width="0.50" stroke-linecap="square"/>
<line x1="366.50" y1="237.25" x2="510.70" y2="237.25" stroke="#333" stroke-width="0.50" stroke-linecap="square"/>
<line x1="510.70" y1="146.00" x2="510.70" y2="237.25" stroke="#333" stroke-width="0.50" stroke-linecap="square"/>
<line x1="366.50" y1="146.00" x2="510.70" y2="146.00" stroke="#333" stroke-width="0.50" stroke-linecap="square"/>
<line x1="364.70" y1="154.45" x2="366.50" y2="154.45" stroke="#222" stroke-width="0.45"/>
<text transform="translate(363.80 156.10) scale(1 1.06)" text-anchor="end" class="t" font-size="4.00">0.006</text>
<line x1="364.70" y1="165.55" x2="366.50" y2="165.55" stroke="#222" stroke-width="0.45"/>
<text transform="translate(363.80 167.20) scale(1 1.06)" text-anchor="end" class="t" font-size="4.00">0.004</text>
<line x1="364.70" y1="176.65" x2="366.50" y2="176.65" stroke="#222" stroke-width="0.45"/>
<text transform="translate(363.80 178.30) scale(1 1.06)" text-anchor="end" class="t" font-size="4.00">0.002</text>
<line x1="364.70" y1="187.75" x2="366.50" y2="187.75" stroke="#222" stroke-width="0.45"/>
<text transform="translate(363.80 189.40) scale(1 1.06)" text-anchor="end" class="t" font-size="4.00">0.000</text>
<line x1="364.70" y1="198.55" x2="366.50" y2="198.55" stroke="#222" stroke-width="0.45"/>
<text transform="translate(363.80 200.20) scale(1 1.06)" text-anchor="end" class="t" font-size="4.00">−0.002</text>
<line x1="364.70" y1="209.50" x2="366.50" y2="209.50" stroke="#222" stroke-width="0.45"/>
<text transform="translate(363.80 211.15) scale(1 1.06)" text-anchor="end" class="t" font-size="4.00">−0.004</text>
<line x1="364.70" y1="221.20" x2="366.50" y2="221.20" stroke="#222" stroke-width="0.45"/>
<text transform="translate(363.80 222.85) scale(1 1.06)" text-anchor="end" class="t" font-size="4.00">−0.006</text>
<line x1="364.70" y1="232.30" x2="366.50" y2="232.30" stroke="#222" stroke-width="0.45"/>
<text transform="translate(363.80 233.95) scale(1 1.06)" text-anchor="end" class="t" font-size="4.00">−0.008</text>
<line x1="438.40" y1="237.25" x2="438.40" y2="239.05" stroke="#222" stroke-width="0.45"/>
<text transform="translate(347.10 192.30) scale(1 1.05) rotate(-90)" text-anchor="middle" class="t" font-size="3.6">Residual</text>
<text transform="translate(430.70 274.70) scale(1 1.05)" text-anchor="middle" class="l">FL</text>
</svg>
</body></html>
